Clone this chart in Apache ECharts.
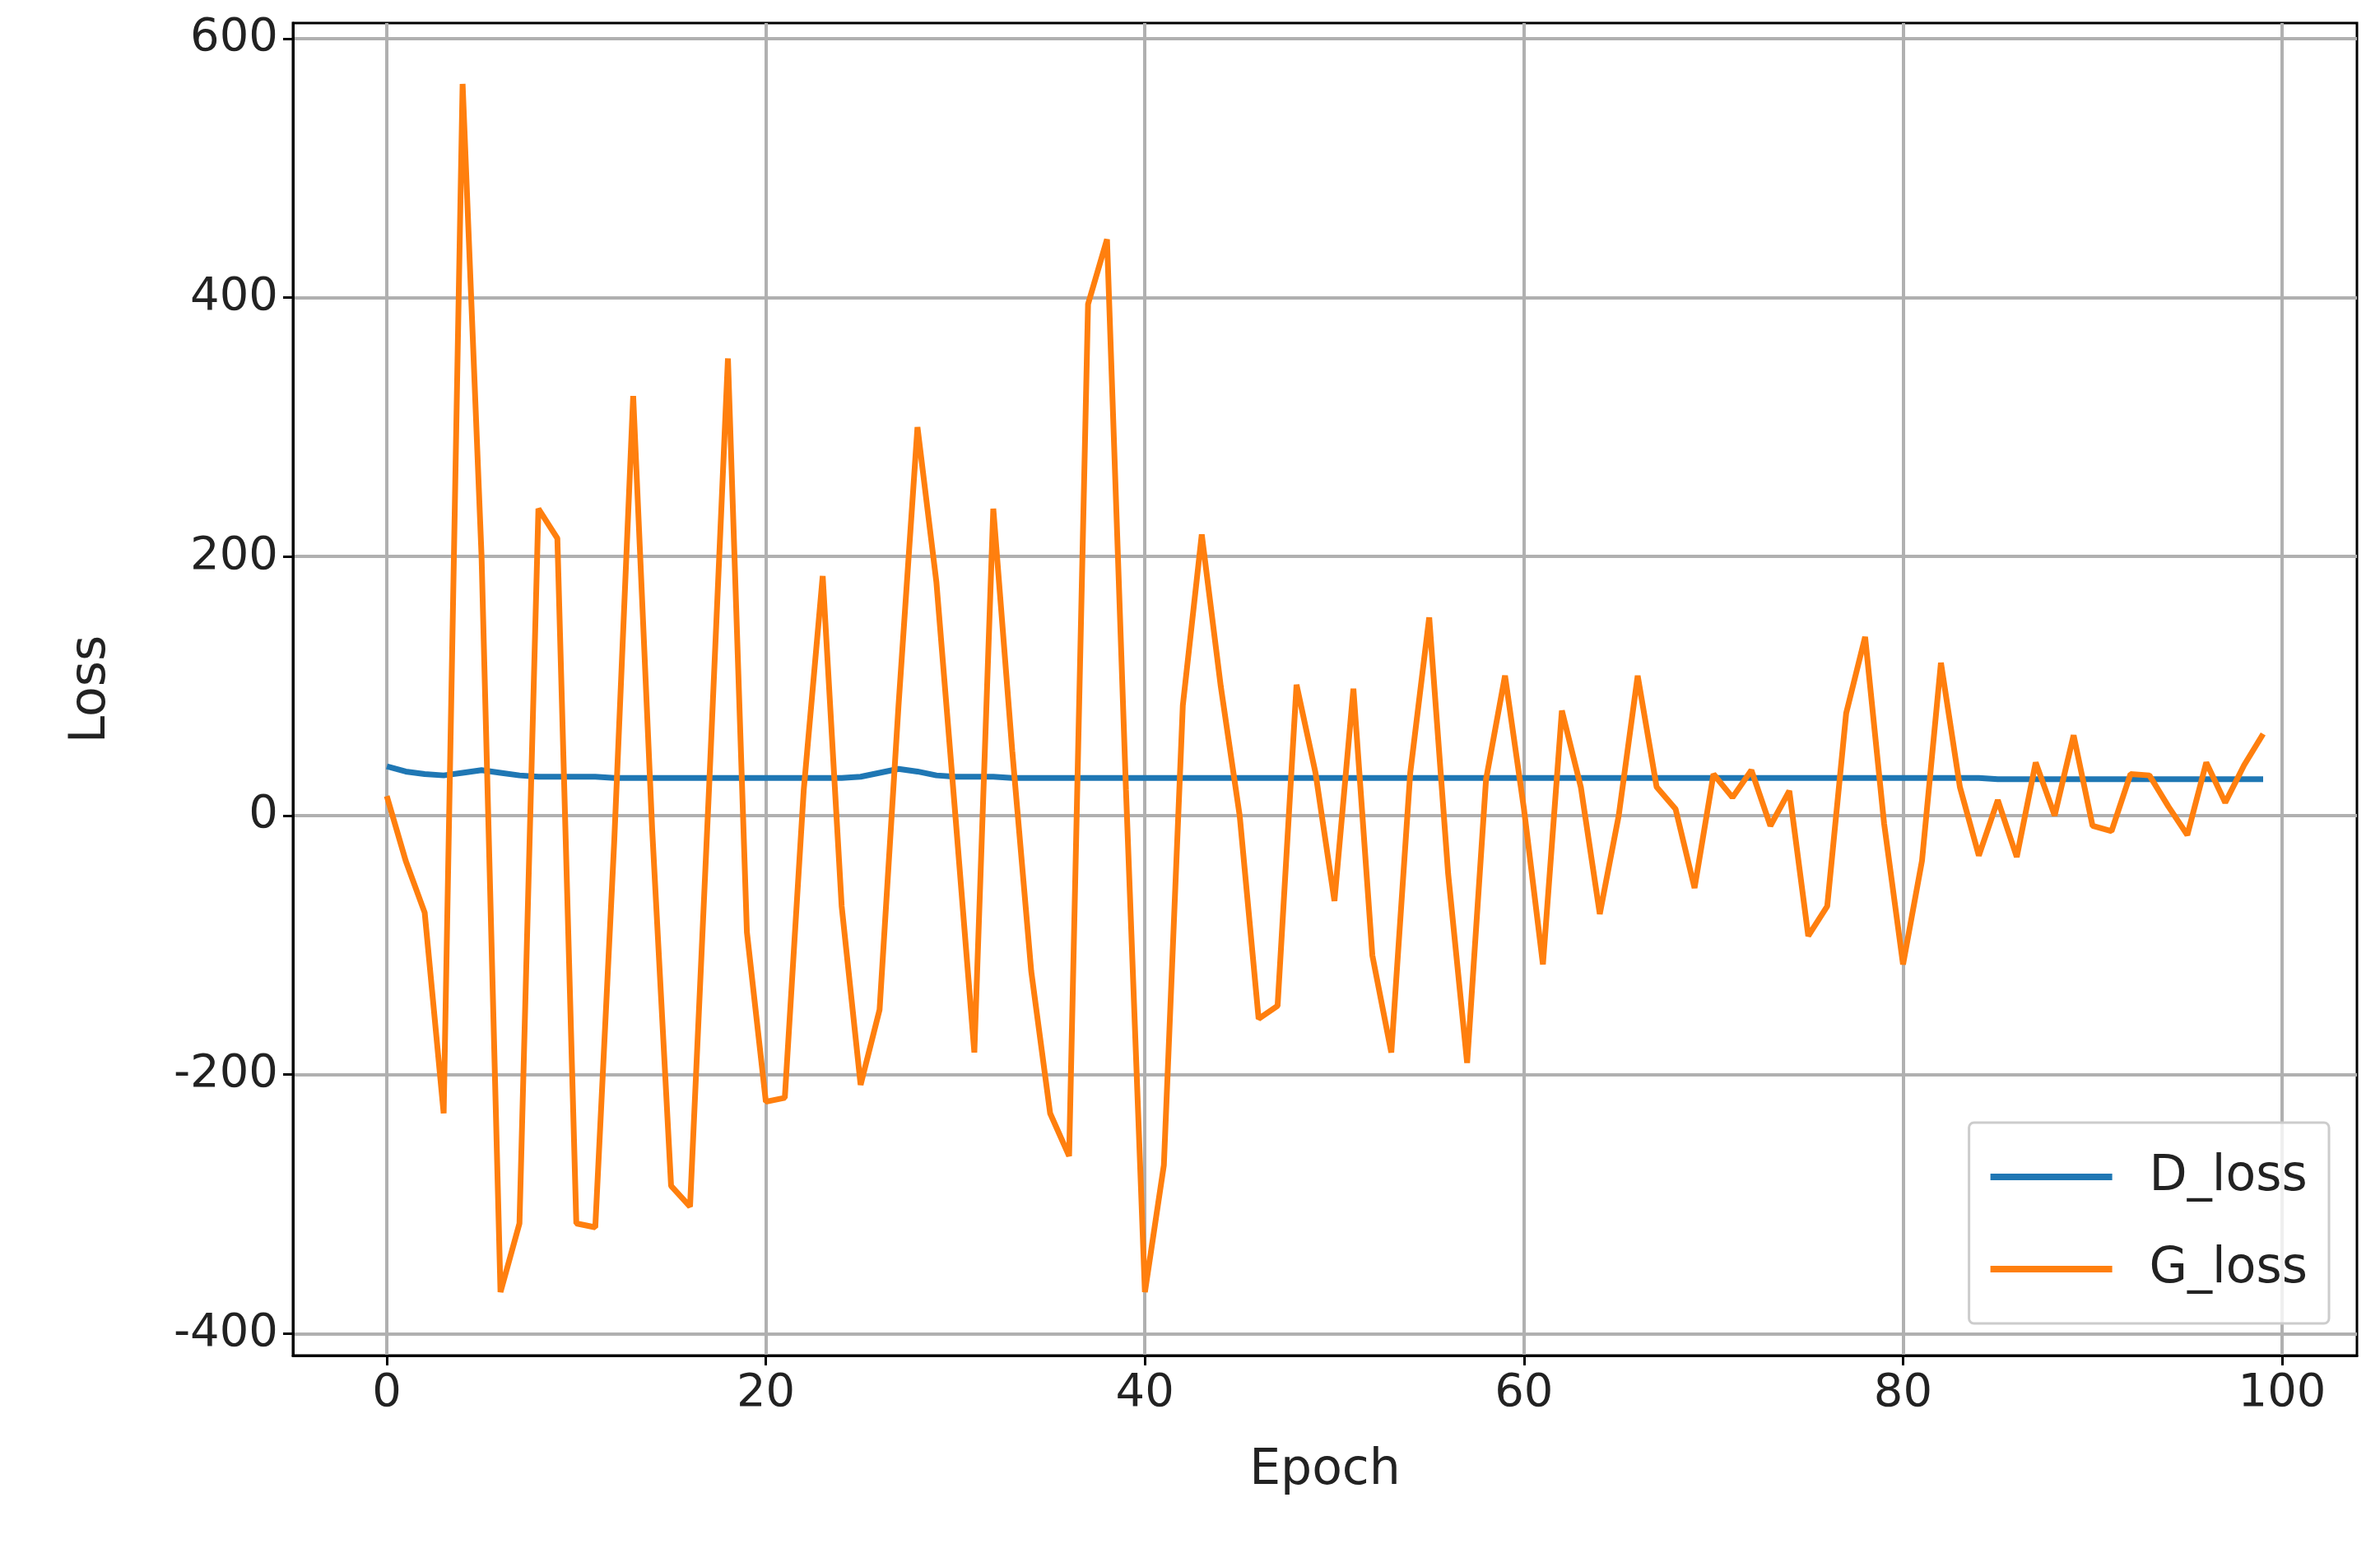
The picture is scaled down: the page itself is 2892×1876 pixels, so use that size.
<!DOCTYPE html>
<html>
<head>
<meta charset="utf-8">
<script src="https://cdn.jsdelivr.net/npm/echarts@6/dist/echarts.min.js"></script>
<style>html,body{margin:0;padding:0;background:#fff}#chart{width:2892px;height:1876px}</style>
</head>
<body>
<div id="chart"></div>
<script>
// 数据
const epochs = Array.from({length: 100}, (_, i) => i);
const dLoss = [38, 34, 32, 31, 33, 35, 33, 31, 30, 30,
    30, 30, 29, 29, 29, 29, 29, 29, 29, 29,
    29, 29, 29, 29, 29, 30, 33, 36, 34, 31,
    30, 30, 30, 29, 29, 29, 29, 29, 29, 29,
    29, 29, 29, 29, 29, 29, 29, 29, 29, 29,
    29, 29, 29, 29, 29, 29, 29, 29, 29, 29,
    29, 29, 29, 29, 29, 29, 29, 29, 29, 29,
    29, 29, 29, 29, 29, 29, 29, 29, 29, 29,
    29, 29, 29, 29, 29, 28, 28, 28, 28, 28,
    28, 28, 28, 28, 28, 28, 28, 28, 28, 28];
const gLoss = [15, -35, -75, -230, 565, 200, -368, -315, 237, 214,
    -315, -318, -20, 324, -10, -286, -302, 20, 353, -90,
    -221, -218, 20, 185, -70, -208, -150, 85, 300, 180,
    0, -183, 237, 50, -120, -230, -263, 395, 445, 20,
    -368, -270, 85, 217, 100, 0, -157, -147, 101, 33,
    -66, 98, -108, -183, 33, 153, -45, -191, 28, 108,
    5, -115, 81, 22, -76, 0, 108, 22, 5, -56,
    32, 14, 35, -8, 19, -93, -70, 79, 138, -6,
    -115, -35, 118, 22, -31, 12, -32, 41, 0, 62,
    -8, -12, 32, 31, 7, -15, 41, 10, 39, 63];
const xTicks = [0, 20, 40, 60, 80, 100];
const yTicks = [-400, -200, 0, 200, 400, 600];

const chart = echarts.init(document.getElementById('chart'));
const font = 'DejaVu Sans';
const axisCommon = {
    axisLine: {show: true, onZero: false, lineStyle: {color: '#000', width: 3}},
    axisTick: {show: true, inside: false, length: 12, lineStyle: {color: '#000', width: 3}},
    axisLabel: {color: '#222', fontSize: 56, fontFamily: font, margin: 18},
    splitLine: {show: true, lineStyle: {color: '#b0b0b0', width: 4}},
    nameTextStyle: {color: '#222', fontSize: 60, fontFamily: font}
};
chart.setOption({
    animation: false,
    backgroundColor: '#fff',
    grid: {left: 356, right: 28, top: 28, bottom: 229, show: true, borderColor: '#000', borderWidth: 3},
    legend: {
        orient: 'vertical', right: 62, bottom: 268,
        padding: [36, 26, 36, 26],
        borderColor: '#cccccc', borderWidth: 3, borderRadius: 6,
        backgroundColor: 'rgba(255,255,255,0.8)',
        icon: 'rect', itemWidth: 148, itemHeight: 8, itemGap: 52,
        textStyle: {fontSize: 60, fontFamily: font, color: '#222', padding: [0, 0, 0, 40]},
        data: ['D_loss', 'G_loss']
    },
    xAxis: Object.assign({}, axisCommon, {
        type: 'value', min: -4.95, max: 103.95,
        name: 'Epoch', nameLocation: 'middle', nameGap: 110,
        axisTick: Object.assign({}, axisCommon.axisTick, {customValues: xTicks}),
        axisLabel: Object.assign({}, axisCommon.axisLabel, {customValues: xTicks})
    }),
    yAxis: Object.assign({}, axisCommon, {
        type: 'value', min: -417, max: 612,
        name: 'Loss', nameLocation: 'middle', nameGap: 215,
        axisTick: Object.assign({}, axisCommon.axisTick, {customValues: yTicks}),
        axisLabel: Object.assign({}, axisCommon.axisLabel, {customValues: yTicks})
    }),
    series: [
        {name: 'D_loss', type: 'line', data: epochs.map((e, i) => [e, dLoss[i]]),
            showSymbol: false, lineStyle: {color: '#1f77b4', width: 7}, itemStyle: {color: '#1f77b4'}},
        {name: 'G_loss', type: 'line', data: epochs.map((e, i) => [e, gLoss[i]]),
            showSymbol: false, lineStyle: {color: '#ff7f0e', width: 7}, itemStyle: {color: '#ff7f0e'}}
    ]
});
</script>
</body>
</html>
